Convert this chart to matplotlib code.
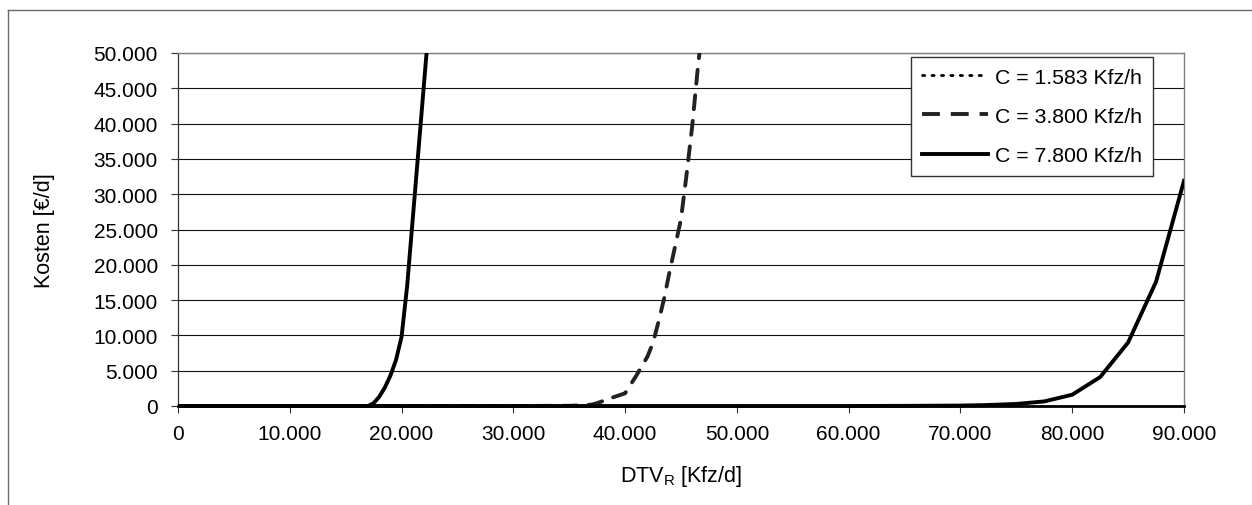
import matplotlib
matplotlib.use("Agg")
import matplotlib.pyplot as plt
from matplotlib.lines import Line2D
from matplotlib.patches import Rectangle
from matplotlib.ticker import FuncFormatter

plt.rcParams['font.family'] = ['Liberation Sans', 'DejaVu Sans']
plt.rcParams['mathtext.fontset'] = 'custom'
plt.rcParams['mathtext.rm'] = 'Liberation Sans'

# ---- data ----
labels = ["C = 1.583 Kfz/h", "C = 3.800 Kfz/h", "C = 7.800 Kfz/h"]

dtv_c1 = [0, 5000, 10000, 15000, 17000, 17500, 18000, 18500, 19000, 19500, 20000, 20500, 22500]
kosten_c1 = [0, 0, 0, 0, 0, 400, 1300, 2600, 4300, 6500, 9800, 17000, 55000]

dtv_c2 = [0, 30000, 35000, 36000, 37000, 37500, 38500, 40000, 41000, 42000, 42500, 43000,
          43500, 44000, 44500, 45000, 45500, 46000, 46500, 47000]
kosten_c2 = [0, 0, 30, 80, 200, 400, 1000, 1800, 4300, 7000, 9000, 12000,
             15300, 19200, 22800, 26500, 32800, 39600, 47800, 55000]

dtv_c3 = [0, 10000, 20000, 30000, 40000, 50000, 60000, 62500, 65000, 67500, 70000, 72500,
          75000, 77500, 80000, 82500, 85000, 87500, 90000]
kosten_c3 = [0, 0, 0, 0, 0, 0, 0, 10, 20, 40, 60, 140,
             290, 650, 1600, 4100, 9000, 17600, 31900]

x_ticks = list(range(0, 90001, 10000))
y_ticks = list(range(0, 50001, 5000))

# ---- figure ----
W, H = 1252, 506
fig = plt.figure(figsize=(W / 100, H / 100), dpi=100)
fig.patch.set_facecolor('white')

# outer chart frame (cropped at right and bottom)
fig.add_artist(Line2D([7.5 / W, 1.0], [1 - 10.5 / H, 1 - 10.5 / H], color='#6a6a6a', lw=1.0))
fig.add_artist(Line2D([7.5 / W, 7.5 / W], [0, 1 - 10.5 / H], color='#6a6a6a', lw=1.0))

left, right = 178 / W, 1184 / W
bottom, top = 1 - 407 / H, 1 - 54 / H
ax = fig.add_axes([left, bottom, right - left, top - bottom])

lw = 2.8
l1, = ax.plot(dtv_c1, kosten_c1, color='black', lw=lw, solid_joinstyle='round', zorder=4)
l2, = ax.plot(dtv_c2, kosten_c2, color='#222222', lw=lw, linestyle=(0, (3.6, 3.0)),
              dash_capstyle='round', zorder=4)
l3, = ax.plot(dtv_c3, kosten_c3, color='black', lw=lw, solid_joinstyle='round', zorder=5)
for ln in (l1, l2, l3):
    ln.set_clip_path(Rectangle((0, -0.03), 1, 1.03, transform=ax.transAxes))

ax.set_xlim(0, 90000)
ax.set_ylim(0, 50000)
ax.set_xticks(x_ticks)
ax.set_yticks(y_ticks)

fmt = FuncFormatter(lambda v, p: f"{int(round(v)):,}".replace(',', '.'))
ax.xaxis.set_major_formatter(fmt)
ax.yaxis.set_major_formatter(fmt)

ax.grid(axis='y', color='#111111', lw=0.8, zorder=1)
ax.set_axisbelow(True)

ax.tick_params(axis='both', direction='out', length=5, width=0.8, color='#333333',
               labelsize=15, labelcolor='black')
ax.tick_params(axis='y', pad=9.5)
ax.tick_params(axis='x', pad=8)

for s in ['top', 'right']:
    ax.spines[s].set_color('#808080')
    ax.spines[s].set_linewidth(1.0)
ax.spines['left'].set_color('#333333')
ax.spines['left'].set_linewidth(0.9)
ax.spines['bottom'].set_color('black')
ax.spines['bottom'].set_linewidth(2.0)

ax.set_ylabel("Kosten [€/d]", fontsize=15.5)
ax.yaxis.set_label_coords((45 - 178) / 1006, 0.5)
ax.set_xlabel(r"DTV$_{\mathregular{R}}$ [Kfz/d]", fontsize=15.5)
ax.xaxis.set_label_coords(0.5, (407 - 477) / 353)
ax.xaxis.label.set_va('center')
ax.yaxis.label.set_va('center')

handles = [
    Line2D([], [], color='black', lw=2.0, linestyle=(0, (0.8, 2.6)), dash_capstyle='round'),
    Line2D([], [], color='#222222', lw=2.8, linestyle=(0, (4.6, 2.8))),
    Line2D([], [], color='black', lw=2.8),
]
leg = ax.legend(handles, labels, loc='upper right',
                bbox_to_anchor=((1153 - 178) / 1006, (407 - 58) / 353),
                fontsize=15.3, frameon=True, fancybox=False, framealpha=1,
                edgecolor='#333333', handlelength=3.1, handletextpad=0.35,
                labelspacing=0.95, borderpad=0.5, borderaxespad=0)
leg.get_frame().set_linewidth(1.0)
leg.set_zorder(10)

fig.savefig("out.png", dpi=100, facecolor='white')
